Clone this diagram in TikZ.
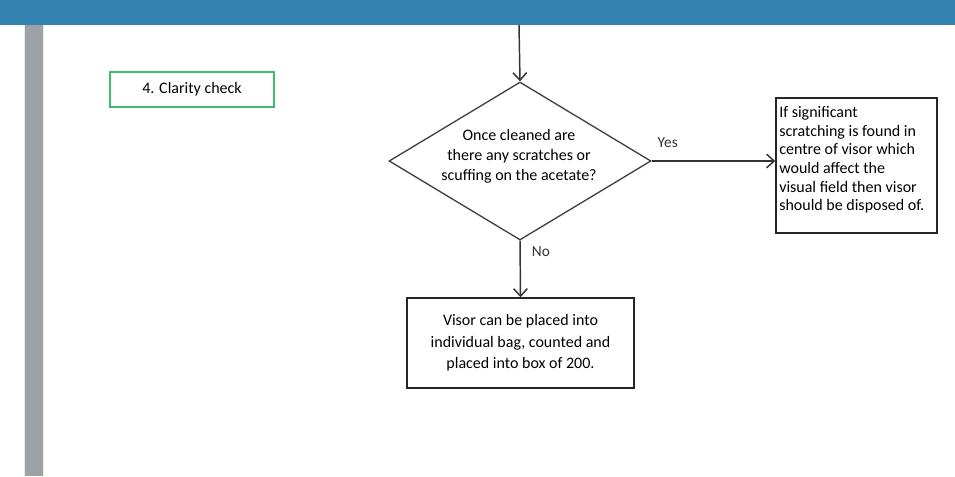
\documentclass[tikz,border=0pt]{standalone}
\usepackage{fontspec}
\setmainfont{Carlito}
\usepackage{tikz}
\usetikzlibrary{arrows.meta,positioning,shapes.geometric}
\definecolor{bandblue}{HTML}{3382B0}
\definecolor{bargray}{HTML}{9EA1A6}
\definecolor{stepgreen}{HTML}{3DBE6E}
\tikzset{
  procbox/.style={rectangle,draw=black!85,line width=1.1pt,inner sep=0pt,font=\fontsize{12}{16}\selectfont},
  stagebox/.style={rectangle,draw=stepgreen,line width=1.1pt,inner sep=0pt,font=\fontsize{12}{14}\selectfont},
  decbox/.style={diamond,draw=black!75,line width=1pt,inner sep=0pt},
  flowarrow/.style={-{Straight Barb[length=2mm,width=3.6mm]},line width=1.1pt,black!80},
  edgelbl/.style={font=\fontsize{11.5}{13}\selectfont},
}
\begin{document}
\begin{tikzpicture}[x=0.75pt,y=-0.75pt]
  \useasboundingbox (0,0) rectangle (955,476);
  % page frame
  \fill[bandblue] (0,0) rectangle (955,25);
  \fill[bargray] (24,25) rectangle (44,476);
  \draw[white!85!gray,line width=0.8pt] (24.5,25) -- (24.5,476);
  \draw[white!85!gray,line width=0.8pt] (43.5,25) -- (43.5,476);
  % nodes
  \node[stagebox,minimum width=164*0.75pt,minimum height=35*0.75pt] (nstage) at (192,89.5) {4. Clarity check};
  \node[decbox,minimum width=262*0.75pt,minimum height=158*0.75pt] (ndec) at (520,161) {};
  \node[align=center,font=\fontsize{12}{15}\selectfont] (ndectxt) at (519,156) {Once cleaned are\\there any scratches or\\scuffing on the acetate?};
  \node[procbox,minimum width=161*0.75pt,minimum height=135*0.75pt] (ndispose) at (856.5,165.5) {};
  \node[align=left,anchor=north west,inner sep=0pt,font=\fontsize{12}{14}\selectfont] (ndisposetxt) at (779,106) {If significant\\scratching is found in\\centre of visor which\\would affect the\\visual field then visor\\should be disposed of.};
  \node[procbox,align=center,minimum width=227*0.75pt,minimum height=90*0.75pt] (nbag) at (520.5,343) {Visor can be placed into\\individual bag, counted and\\placed into box of 200.};
  \coordinate (nin) at (519,25);
  % connectors
  \draw[flowarrow] (nin) -- (ndec.north);
  \draw[flowarrow] (ndec.east) -- (ndec.east -| ndispose.west) node[edgelbl,pos=0.13,above=6pt] {Yes};
  \draw[flowarrow] (ndec.south) -- (nbag.north) node[edgelbl,pos=0.2,right=5pt] {No};
\end{tikzpicture}
\end{document}
